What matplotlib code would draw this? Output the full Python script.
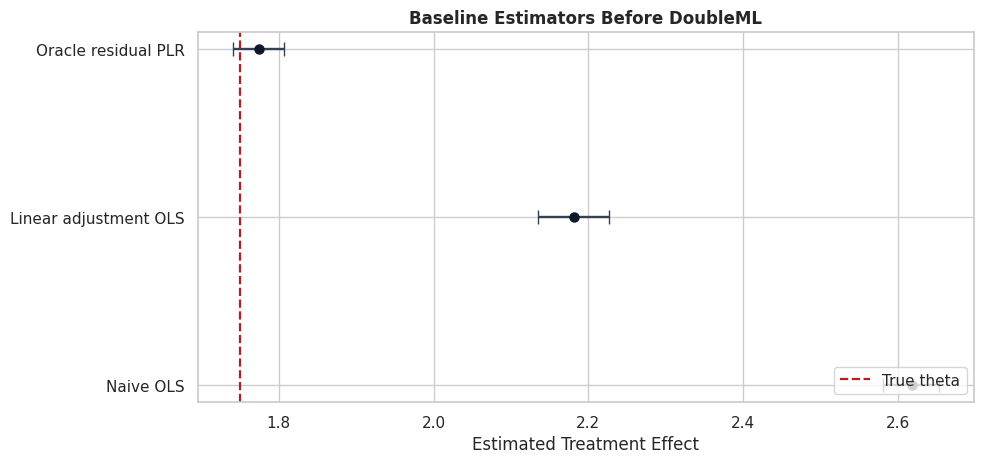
import numpy as np
import matplotlib.pyplot as plt
import seaborn as sns

sns.set_theme(style="whitegrid")

# estimates
methods = ["Naive OLS", "Linear adjustment OLS", "Oracle residual PLR"]
estimates = [2.618, 2.181, 1.774]
ci_low = [2.581, 2.135, 1.741]
ci_high = [2.653, 2.227, 1.807]
true_theta = 1.75

est = np.array(estimates)
err = np.array([est - np.array(ci_low), np.array(ci_high) - est])
ypos = np.arange(len(methods))

fig, ax = plt.subplots(figsize=(9.84, 4.64), dpi=100)
ax.errorbar(est, ypos, xerr=err, fmt="o", color="#0f172a", ecolor="#334155",
            elinewidth=1.7, capsize=5, markersize=6.5)
ax.axvline(true_theta, color="#b91c1c", linestyle="--", linewidth=1.6, label="True theta")
ax.set_yticks(ypos)
ax.set_yticklabels(methods)
ax.set_xlabel("Estimated Treatment Effect")
ax.set_title("Baseline Estimators Before DoubleML", fontweight="bold")
ax.legend(loc="lower right")
fig.subplots_adjust(left=0.201, right=0.990, top=0.9295, bottom=0.1325)
fig.savefig("out.png")
